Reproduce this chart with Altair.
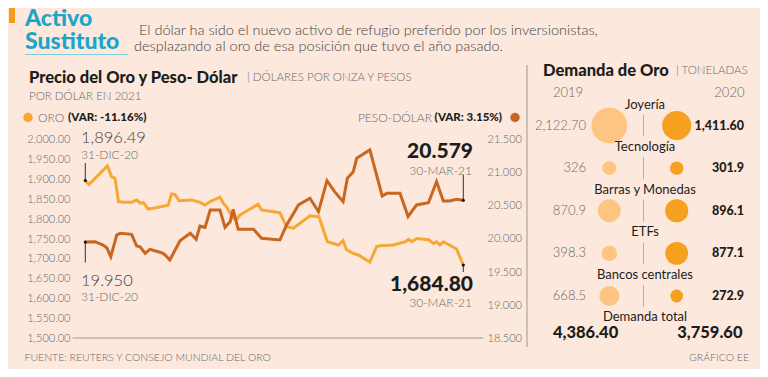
import altair as alt
import pandas as pd

# ---------------- data ----------------
oro_dia = [0, 0.9, 5.2, 6.2, 7.0, 7.8, 8.9, 10.9, 12.1, 12.9, 13.7, 14.8, 16.0, 19.5, 20.3, 21.1, 22.1,
           25.1, 27.0, 28.2, 29.4, 31.7, 32.5, 33.3, 34.8, 35.6, 36.4, 40.7, 41.5, 45.8, 47.4, 49.0,
           52.9, 55.0, 57.0, 59.6, 60.7, 61.5, 63.1, 64.3, 67.0, 68.6, 69.4, 72.5, 75.3, 76.1, 76.9,
           78.0, 80.8, 82.0, 82.7, 83.5, 84.3, 87.4, 89.0]
oro_valor = [1896.49, 1887, 1933, 1906, 1902, 1844, 1842, 1842, 1848, 1840, 1841, 1825, 1827, 1835,
             1863, 1862, 1846, 1848, 1842, 1835, 1844, 1855, 1840, 1830, 1802, 1798, 1810, 1837, 1823,
             1816, 1781, 1777, 1808, 1806, 1743, 1735, 1746, 1723, 1714, 1710, 1692, 1731, 1733, 1735,
             1743, 1749, 1743, 1751, 1748, 1739, 1743, 1735, 1743, 1725, 1684.80]
peso_dia = [0, 2.3, 4.2, 5.1, 6.0, 7.4, 8.2, 10.9, 12.1, 12.9, 14.1, 15.2, 18.0, 18.8, 19.9, 22.3, 24.7,
            26.1, 27.0, 28.2, 29.4, 31.7, 32.9, 34.1, 34.8, 36.0, 39.6, 41.5, 45.8, 47.4, 50.2, 52.9,
            54.9, 56.9, 58.7, 60.7, 61.7, 63.1, 63.9, 67.0, 69.9, 71.0, 74.1, 76.0, 78.0, 80.8, 82.7,
            84.3, 85.8, 87.4, 89.0]
peso_valor = [19.950, 19.956, 19.906, 19.86, 19.73, 20.056, 20.082, 20.067, 19.891, 19.880, 19.781,
              19.841, 19.790, 19.756, 19.680, 19.971, 20.082, 19.992, 20.192, 20.172, 20.432, 20.432,
              20.172, 20.256, 20.443, 20.142, 20.142, 20.007, 19.981, 20.207, 20.508, 20.608, 20.407,
              20.873, 20.708, 20.557, 20.909, 21.008, 21.210, 21.335, 20.643, 20.683, 20.683, 20.335,
              20.508, 20.542, 20.858, 20.568, 20.568, 20.593, 20.579]
oro_ticks = [1500, 1550, 1600, 1650, 1700, 1750, 1800, 1850, 1900, 1950, 2000]
peso_ticks = [18.5, 19.0, 19.5, 20.0, 20.5, 21.0, 21.5]

categorias = ["Joyería", "Tecnología", "Barras y Monedas", "ETFs", "Bancos centrales"]
dem_2019 = [2122.70, 326, 870.9, 398.3, 668.5]
dem_2020 = [1411.60, 301.9, 896.1, 877.1, 272.9]
total_2019 = 4386.40
total_2020 = 3759.60

# ---------------- style ----------------
W, H = 752, 361
FONT = "Lato"
BG = "#fce8dc"
TEAL = "#1aa5c9"
GOLD = "#f7a833"
PESO = "#c9661f"
C19 = "#fdc482"
C20 = "#f6a020"
DARK = "#1d1d1b"
GRAY = "#6b6b6b"
LINE = "#9a9a9a"


def P(v):
    return v - 8


def T(s, x, y, size, weight=300, color=GRAY, align="left", baseline="middle"):
    df = pd.DataFrame({"t": [s]})
    return alt.Chart(df).mark_text(
        align=align, baseline=baseline, fontSize=size, fontWeight=weight, color=color, font=FONT
    ).encode(text="t:N", x=alt.value(P(x)), y=alt.value(P(y)))


def R(x1, y1, x2, y2, color=LINE, w=1):
    df = pd.DataFrame({"a": [0]})
    return alt.Chart(df).mark_rule(color=color, strokeWidth=w).encode(
        x=alt.value(P(x1)), y=alt.value(P(y1)), x2=alt.value(P(x2)), y2=alt.value(P(y2))
    )


def fmt(v):
    return f"{v:,.2f}" if v >= 1000 else f"{v:g}"


df_oro = pd.DataFrame({"dia": oro_dia, "valor": oro_valor})
df_peso = pd.DataFrame({"dia": peso_dia, "valor": peso_valor})

xs = alt.Scale(domain=[0, 89], range=[P(85.3), P(463.3)])
ys_oro = alt.Scale(domain=[1500, 2000], range=[P(338.7), P(139.3)])
ys_peso = alt.Scale(domain=[18.5, 21.5], range=[P(338.5), P(139)])

gold = alt.Chart(df_oro).mark_line(color=GOLD, strokeWidth=3).encode(
    x=alt.X("dia:Q", scale=xs, axis=None),
    y=alt.Y("valor:Q", scale=ys_oro, axis=alt.Axis(
        orient="left", offset=-P(71), values=oro_ticks, format=",.2f", domain=False, ticks=False,
        grid=False, labelPadding=1, labelFontSize=11, labelColor=GRAY, labelFont=FONT,
        labelFontWeight=300, title=None)),
)
peso = alt.Chart(df_peso).mark_line(color=PESO, strokeWidth=3).encode(
    x=alt.X("dia:Q", scale=xs, axis=None),
    y=alt.Y("valor:Q", scale=ys_peso, axis=alt.Axis(
        orient="right", offset=-(W - P(486)), values=peso_ticks, format=".3f", domain=False,
        ticks=False, grid=False, labelPadding=1, labelFontSize=11, labelColor=GRAY, labelFont=FONT,
        labelFontWeight=300, title=None)),
)


def leader(df, ys, row, y2):
    d = df.iloc[[row]]
    rule = alt.Chart(d).mark_rule(color="#333333", strokeWidth=1).encode(
        x=alt.X("dia:Q", scale=xs, axis=None),
        y=alt.Y("valor:Q", scale=ys, axis=None),
        y2=alt.value(P(y2)),
    )
    dot = alt.Chart(d).mark_circle(color="#111111", size=10, opacity=1).encode(
        x=alt.X("dia:Q", scale=xs, axis=None),
        y=alt.Y("valor:Q", scale=ys, axis=None),
    )
    return [rule, dot]


# right panel data
rows = []
for c, a, b in zip(categorias, dem_2019, dem_2020):
    rows.append({"categoria": c, "año": "2019", "valor": a, "label": fmt(a)})
    rows.append({"categoria": c, "año": "2020", "valor": b, "label": fmt(b)})
df_dem = pd.DataFrame(rows)
df_cat = pd.DataFrame({"categoria": categorias})

xs_year = alt.Scale(type="point", domain=["2019", "2020"], range=[P(609.3), P(676.7)], padding=0)
ys_cat = alt.Scale(type="point", domain=categorias, range=[P(125.5), P(296)], padding=0)

circles = alt.Chart(df_dem).mark_circle(opacity=1).encode(
    x=alt.X("año:N", scale=xs_year, axis=None),
    y=alt.Y("categoria:N", scale=ys_cat, axis=None),
    size=alt.Size("valor:Q", scale=alt.Scale(domain=[0, 2122.7], range=[0, 1270]), legend=None),
    color=alt.Color("año:N", scale=alt.Scale(domain=["2019", "2020"], range=[C19, C20]), legend=None),
)
vals19 = alt.Chart(df_dem[df_dem["año"] == "2019"]).mark_text(
    align="right", baseline="middle", fontSize=13, fontWeight=300, color=GRAY, font=FONT
).encode(text="label:N", x=alt.value(P(586)), y=alt.Y("categoria:N", scale=ys_cat, axis=None))
vals20 = alt.Chart(df_dem[df_dem["año"] == "2020"]).mark_text(
    align="right", baseline="middle", fontSize=12.5, fontWeight=900, color=DARK, font=FONT
).encode(text="label:N", x=alt.value(P(744)), y=alt.Y("categoria:N", scale=ys_cat, axis=None))
catlab = alt.Chart(df_cat).mark_text(
    align="center", baseline="middle", fontSize=13, fontWeight=400, color=DARK, font=FONT, dy=-21
).encode(text="categoria:N", x=alt.value(P(645)), y=alt.Y("categoria:N", scale=ys_cat, axis=None))
seps = alt.Chart(df_cat).mark_tick(orient="vertical", size=22, thickness=1, color=LINE).encode(
    x=alt.value(P(643.5)), y=alt.Y("categoria:N", scale=ys_cat, axis=None)
)

legend_dots = alt.Chart(pd.DataFrame({"s": ["ORO", "PESO-DÓLAR"], "px": [P(28), P(515)]})).mark_circle(
    size=90, opacity=1
).encode(
    x=alt.X("px:Q", scale=None, axis=None),
    y=alt.value(P(117.5)),
    color=alt.Color("s:N", scale=alt.Scale(domain=["ORO", "PESO-DÓLAR"], range=[GOLD, PESO]), legend=None),
)

bar = alt.Chart(pd.DataFrame({"a": [0]})).mark_rect(color="#f39c1f").encode(
    x=alt.value(P(9)), x2=alt.value(P(15)), y=alt.value(P(8)), y2=alt.value(P(23))
)

layers = [
    bar,
    T("Activo", 25, 19, 23, 900, TEAL),
    T("Sustituto", 25, 41.5, 23, 900, TEAL),
    R(25, 54.5, 128, 54.5, "#7fcbe0", 1),
    T("El dólar ha sido el nuevo activo de refugio preferido por los inversionistas,", 139, 35, 14.5, 300, "#444444", baseline="alphabetic"),
    T("desplazando al oro de esa posición que tuvo el año pasado.", 134, 51, 14.5, 300, "#444444", baseline="alphabetic"),
    T("Precio del Oro y Peso- Dólar", 29, 78, 16.5, 900, DARK),
    T("| DÓLARES POR ONZA Y PESOS", 247, 78, 11.5, 300, GRAY),
    T("POR DÓLAR EN 2021", 29, 96.5, 11.5, 300, GRAY),
    legend_dots,
    T("ORO", 38, 117.5, 12, 300, GRAY),
    T("(VAR: -11.16%)", 68, 117.5, 11.5, 900, DARK),
    T("PESO-DÓLAR", 432, 117.5, 12, 300, GRAY, align="right"),
    T("(VAR: 3.15%)", 502, 117.5, 11.5, 900, DARK, align="right"),
    R(72.5, 338, 483, 338, LINE, 1),
    gold,
    peso,
]
layers += leader(df_oro, ys_oro, 0, 163)
layers += leader(df_oro, ys_oro, len(df_oro) - 1, 272)
layers += leader(df_peso, ys_peso, 0, 262.5)
layers += leader(df_peso, ys_peso, len(df_peso) - 1, 175)
layers += [
    T("1,896.49", 81, 138, 16.5, 300, "#444444"),
    T("31-DIC-20", 81, 154.5, 12, 300, GRAY),
    T("19.950", 81, 280.5, 16.5, 300, "#444444"),
    T("31-DIC-20", 81, 296.5, 12, 300, GRAY),
    T("20.579", 473, 152, 21, 900, DARK, align="right"),
    T("30-MAR-21", 472, 171, 12, 300, GRAY, align="right"),
    T("1,684.80", 473, 285, 21, 900, DARK, align="right"),
    T("30-MAR-21", 472, 302.5, 12, 300, GRAY, align="right"),
    # right panel
    R(527, 65, 527, 347, LINE, 1),
    T("Demanda de Oro", 543, 70.5, 16.5, 900, DARK),
    T("| TONELADAS", 676, 70.5, 11.5, 300, GRAY),
    T("2019", 553, 93, 13, 300, GRAY),
    T("2020", 744.5, 93, 13, 300, GRAY, align="right"),
    seps,
    circles,
    vals19,
    vals20,
    catlab,
    T("Demanda total", 645, 317, 13, 400, DARK, align="center"),
    T(fmt(total_2019), 553, 333, 16.5, 900, DARK),
    T(fmt(total_2020), 742.5, 333, 16.5, 900, DARK, align="right"),
    # footer
    T("FUENTE: REUTERS Y CONSEJO MUNDIAL DEL ORO", 24.5, 358, 10.5, 300, GRAY),
    T("GRÁFICO EE", 749, 358, 10.5, 300, GRAY, align="right"),
    R(8, 370.5, 751, 370.5, "#a0a0a0", 1),
]

chart = alt.layer(*layers).resolve_scale(
    x="independent", y="independent", size="independent", color="independent"
).properties(
    width=W, height=H, autosize=alt.AutoSizeParams(type="none"), padding=0
).configure(background=BG).configure_view(stroke=None)

chart.save("out.html", embed_options={"renderer": "svg", "actions": False})
